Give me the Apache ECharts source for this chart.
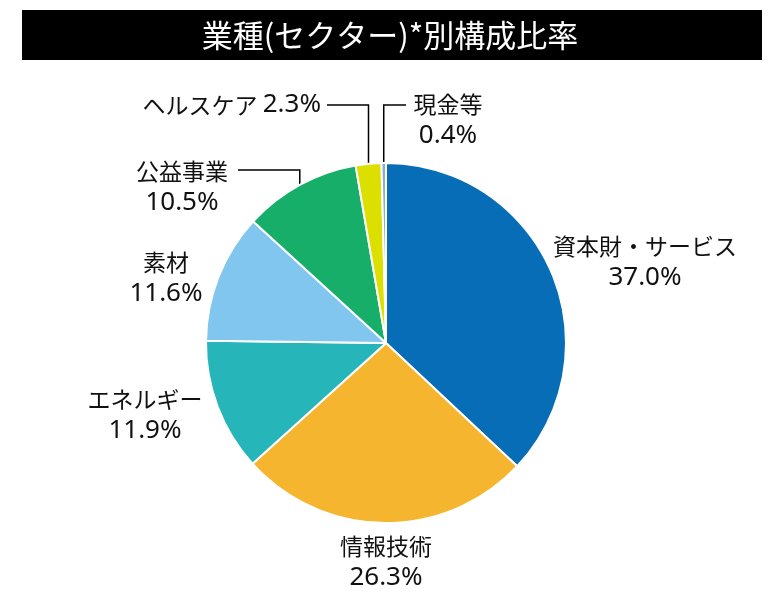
<!DOCTYPE html>
<html>
<head>
<meta charset="utf-8">
<script src="https://cdn.jsdelivr.net/npm/echarts@6/dist/echarts.min.js"></script>
<style>
  html, body { margin: 0; padding: 0; background: #fff; }
  #chart { width: 784px; height: 602px; }
</style>
</head>
<body>
<div id="chart"></div>
<script>
// sector names and weights (%), clockwise from 12 o'clock
var sectors = ['資本財・サービス', '情報技術', 'エネルギー', '素材', '公益事業', 'ヘルスケア', '現金等'];
var weights = [37.0, 26.3, 11.9, 11.6, 10.5, 2.3, 0.4];
var colors = ['#076db6', '#f6b52e', '#26b5b9', '#81c6ee', '#17ae6a', '#dce000', '#8ea9d6'];
var titleText = '業種(セクター)*別構成比率';

// where each label sits: [x, y, align]
var labelPos = [
    [645, 262, 'center'],
    [386, 562, 'center'],
    [145, 415, 'center'],
    [166, 278, 'center'],
    [182, 187, 'center'],
    [321, 105, 'right'],
    [448, 120, 'center']
];
// leader lines: [y of horizontal run, x where it ends]
var leaders = { 4: [170, 238], 5: [105, 327], 6: [105, 406] };

var chart = echarts.init(document.getElementById('chart'));

chart.setOption({
    animation: false,
    textStyle: { fontFamily: '"Noto Sans CJK JP", "Noto Sans", sans-serif' },
    graphic: [
        {
            type: 'rect',
            shape: { x: 22, y: 10, width: 740, height: 50 },
            style: { fill: '#000' }
        },
        {
            type: 'text',
            x: 390, y: 35,
            style: {
                text: titleText,
                fill: '#fff',
                font: '31px "Noto Sans CJK JP"',
                align: 'center',
                verticalAlign: 'middle'
            }
        }
    ],
    series: [{
        type: 'pie',
        center: [386, 343],
        radius: 180,
        startAngle: 90,
        clockwise: true,
        avoidLabelOverlap: false,
        itemStyle: { borderColor: '#fff', borderWidth: 2 },
        label: {
            show: true,
            position: 'outside',
            color: '#111',
            formatter: function (p) {
                var v = '{v|' + p.value.toFixed(1) + '%}';
                return p.dataIndex === 5 ? '{n|' + p.name + ' }' + v : '{n|' + p.name + '}\n' + v;
            },
            rich: {
                n: { fontSize: 23, lineHeight: 31, fontFamily: '"Noto Sans CJK JP"', color: '#111' },
                v: { fontSize: 26, lineHeight: 31, fontFamily: '"Noto Sans"', color: '#111' }
            }
        },
        labelLine: { show: false, lineStyle: { color: '#000', width: 1.5 } },
        labelLayout: function (p) {
            var pos = labelPos[p.dataIndex];
            var out = { x: pos[0], y: pos[1], align: pos[2], verticalAlign: 'middle' };
            var l = leaders[p.dataIndex];
            if (l && p.labelLinePoints) {
                var e = p.labelLinePoints[0];
                out.labelLinePoints = [[e[0], e[1]], [e[0], l[0]], [l[1], l[0]]];
            }
            return out;
        },
        data: sectors.map(function (name, i) {
            return {
                name: name,
                value: weights[i],
                itemStyle: { color: colors[i] },
                labelLine: { show: leaders[i] !== undefined }
            };
        })
    }]
});
</script>
</body>
</html>
